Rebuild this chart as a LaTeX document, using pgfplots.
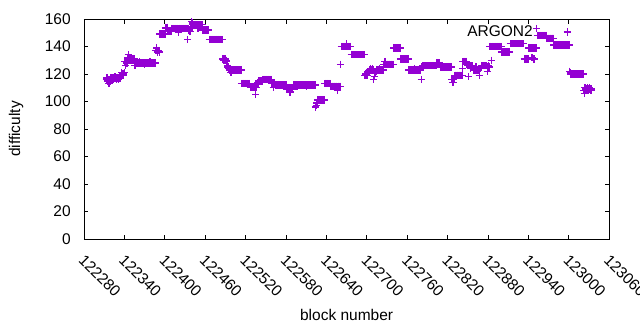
\documentclass[border=0pt]{standalone}
\usepackage{pgfplots}
\pgfplotsset{compat=1.18}
\usepackage{fontspec}
\setmainfont{Liberation Sans}
\definecolor{gpv}{HTML}{9400D3}
\begin{document}
\fontsize{15.5pt}{18pt}\selectfont
\begin{tikzpicture}
\path[use as bounding box] (0,0) rectangle (640pt,330pt);
\begin{axis}[
 at={(84pt,91pt)}, anchor=south west,
 scale only axis, width=525.3pt, height=220pt,
 xmin=122280, xmax=123060, ymin=0, ymax=160,
 xtick={122280,122340,122400,122460,122520,122580,122640,122700,122760,122820,122880,122940,123000,123060},
 xticklabels={122280,122340,122400,122460,122520,122580,122640,122700,122760,122820,122880,122940,123000,123060},
 scaled x ticks=false,
 ytick={0,20,40,60,80,100,120,140,160},
 /pgf/number format/assume math mode=true,
 tick align=inside, tick pos=both, major tick length=4.5pt,
 axis line style={line width=0.9pt},
 every tick/.style={black, line width=0.9pt},
 xticklabel style={rotate=-45, anchor=north west, inner sep=0pt, xshift=11pt, yshift=-9pt},
 yticklabel style={xshift=-8pt},
 xlabel={block number}, ylabel={difficulty},
 xlabel style={at={(axis description cs:0.5,-0.3455)}, anchor=center},
 ylabel style={at={(axis description cs:-0.129,0.5)}, anchor=center},
 legend style={draw=none, fill=none, at={(axis description cs:0.9277,0.941)}, anchor=east, inner sep=0pt, nodes={inner sep=0pt}, /tikz/every odd column/.append style={column sep=31pt}},
 legend plot pos=right, legend cell align=right,
 legend image code/.code={\draw[#1] plot coordinates {(0cm,0cm)};},
]
\addplot[only marks, mark=+, mark size=3.7pt, color=gpv, draw=gpv, line width=1.4pt, mark options={solid, draw=gpv, fill=gpv}] coordinates {
(122313,116)(122314,117)(122315,115)(122316,116)(122317,113)(122318,116)(122319,115)(122320,117)(122321,116)
(122322,117)(122323,116)(122324,117)(122325,117)(122326,118)(122327,117)(122328,116)(122329,117)(122330,117)(122331,116)(122332,117)(122333,118)(122334,117)
(122335,119)(122336,121)(122337,119)(122338,120)(122339,119)(122340,121)
(122341,129)(122342,126)(122343,129)(122344,128)(122345,132)(122346,134)(122347,131)(122348,132)(122349,131)(122350,130)(122351,131)
(122352,131)(122353,130)(122354,131)(122355,130)(122356,126)(122357,129)
(122358,128)(122359,128)(122360,128)(122361,128)(122362,129)(122363,128)(122364,128)(122365,128)(122366,128)(122367,128)(122368,128)(122369,128)(122370,127)(122371,128)(122372,128)(122373,128)(122374,128)(122375,128)(122376,128)(122377,128)(122378,129)(122379,128)(122380,128)(122381,128)(122382,128)(122383,128)(122384,128)(122385,128)(122386,128)
(122387,137)(122388,139)(122389,136)(122390,137)(122391,137)(122392,136)
(122393,149)(122394,149)(122395,149)(122396,149)(122397,149)(122398,149)(122399,149)(122400,149)
(122401,154)(122402,153)(122403,154)(122404,153)
(122405,151)(122406,151)(122407,151)(122408,151)(122409,151)
(122410,153)(122411,153)(122412,153)(122413,153)(122414,153)(122415,153)(122416,153)(122417,153)(122418,153)(122419,153)(122420,150)(122421,153)(122422,153)(122423,153)(122424,153)(122425,153)(122426,153)(122427,153)(122428,153)(122429,153)(122430,153)(122431,153)(122432,153)
(122433,153)(122434,145)(122435,153)(122436,152)(122437,151)(122438,151)(122439,153)(122440,158)(122441,157)
(122442,156)(122443,156)(122444,156)(122445,156)(122446,156)(122447,156)(122448,156)(122449,153)(122450,156)(122451,156)(122452,156)(122453,156)(122454,156)(122455,156)
(122456,152)(122457,152)(122458,152)(122459,152)(122460,152)(122461,152)(122462,152)(122463,152)(122464,152)(122465,152)
(122466,145)(122467,145)(122468,145)(122469,145)(122470,145)(122471,145)(122472,145)(122473,145)(122474,145)(122475,145)(122476,145)(122477,145)(122478,145)(122479,145)(122480,145)(122481,145)(122482,145)(122483,145)(122484,145)(122485,145)
(122486,131)(122487,130)(122488,131)(122489,130)(122490,131)(122491,130)(122492,129)(122493,126)(122494,125)(122495,124)
(122496,123)(122497,123)(122498,121)(122499,123)(122500,123)(122501,123)(122502,123)(122503,123)(122504,123)(122505,123)(122506,123)(122507,123)(122508,123)(122509,123)(122510,123)(122511,123)(122512,123)(122513,123)
(122514,113)(122515,113)(122516,113)(122517,113)(122518,113)(122519,113)(122520,113)(122521,113)(122522,113)(122523,113)(122524,113)(122525,113)(122526,113)
(122527,110)(122528,110)(122529,110)(122530,110)(122531,110)(122532,110)(122533,110)(122534,110)(122535,105)(122536,110)
(122537,113)(122538,114)(122539,113)(122540,115)
(122541,115)(122542,115)(122543,115)(122544,115)(122545,115)
(122546,116)(122547,116)(122548,116)(122549,116)(122550,116)(122551,116)(122552,116)(122553,116)(122554,116)(122555,116)(122556,116)(122557,116)(122558,116)
(122559,113)(122560,113)(122561,110)(122562,113)(122563,113)
(122564,112)(122565,112)(122566,112)(122567,112)(122568,112)(122569,112)(122570,112)(122571,112)(122572,112)(122573,112)(122574,112)(122575,112)(122576,112)(122577,112)(122578,112)(122579,112)(122580,112)
(122581,109)(122582,109)(122583,109)(122584,109)(122585,109)(122586,107)(122587,109)(122588,109)(122589,109)(122590,109)
(122591,112)(122592,112)(122593,112)(122594,112)(122595,112)(122596,111)(122597,112)(122598,112)(122599,112)(122600,112)(122601,112)(122602,112)(122603,112)(122604,112)(122605,112)(122606,112)(122607,112)(122608,112)(122609,112)(122610,111)(122611,112)(122612,112)(122613,112)(122614,112)(122615,112)(122616,112)(122617,112)(122618,112)(122619,112)(122620,112)(122621,112)(122622,112)(122623,112)
(122624,96)(122625,97)(122626,99)
(122627,101)(122628,101)(122629,101)(122630,101)(122631,101)(122632,101)(122633,101)(122634,101)(122635,101)(122636,101)(122637,101)
(122638,113)(122639,113)(122640,113)(122641,113)(122642,113)(122643,113)(122644,113)(122645,113)
(122646,111)(122647,111)(122648,111)(122649,111)(122650,111)(122651,111)(122652,111)(122653,111)(122654,111)(122655,111)(122656,108)(122657,111)(122658,111)(122659,111)(122660,111)
(122661,127)
(122662,140)(122663,140)(122664,140)(122665,140)(122666,140)(122667,140)(122668,140)(122669,140)(122670,142)(122671,140)(122672,140)(122673,140)(122674,140)(122675,140)(122676,140)
(122677,134)(122678,134)(122679,134)(122680,134)(122681,134)(122682,134)(122683,134)(122684,134)(122685,134)(122686,134)(122687,134)(122688,134)(122689,134)(122690,134)(122691,134)(122692,134)(122693,134)(122694,134)(122695,134)(122696,134)
(122697,119)(122698,119)(122699,120)(122700,119)(122701,121)(122702,122)(122703,121)(122704,123)(122705,124)(122706,123)(122707,123)(122708,124)(122709,123)(122710,116)(122711,118)(122712,121)(122713,121)(122714,122)
(122715,123)(122716,123)(122717,123)(122718,123)(122719,124)(122720,123)(122721,123)(122722,123)(122723,123)(122724,123)
(122725,127)(122726,127)(122727,129)(122728,127)(122729,127)(122730,127)(122731,127)(122732,127)(122733,127)(122734,127)(122735,127)(122736,127)(122737,127)(122738,127)(122739,127)
(122740,139)(122741,139)(122742,139)(122743,139)(122744,139)(122745,139)(122746,139)(122747,139)(122748,139)(122749,139)
(122750,131)(122751,131)(122752,131)(122753,131)(122754,131)(122755,131)(122756,131)(122757,131)(122758,131)(122759,131)(122760,131)(122761,131)
(122762,123)(122763,123)(122764,123)(122765,123)(122766,123)(122767,123)(122768,123)(122769,123)(122770,123)(122771,124)(122772,123)(122773,123)(122774,123)(122775,123)(122776,123)(122777,123)(122778,123)(122779,123)(122780,123)
(122781,116)(122782,125)(122783,126)(122784,125)(122785,126)
(122786,126)(122787,126)(122788,126)(122789,126)(122790,126)(122791,126)(122792,126)(122793,126)(122794,126)(122795,126)(122796,126)(122797,126)(122798,126)(122799,126)(122800,126)(122801,126)(122802,126)(122803,126)
(122804,128)(122805,128)(122806,128)(122807,128)(122808,128)
(122809,125)(122810,125)(122811,125)(122812,125)(122813,125)(122814,125)(122815,125)(122816,125)(122817,125)(122818,125)(122819,125)(122820,125)(122821,125)(122822,125)(122823,125)(122824,125)(122825,125)
(122826,116)(122827,116)(122828,114)(122829,116)(122830,117)
(122831,119)(122832,119)(122833,119)(122834,119)(122835,119)(122836,119)(122837,119)(122838,119)(122839,119)(122840,119)(122841,119)
(122842,124)
(122843,129)(122844,129)(122845,129)(122846,129)(122847,129)(122848,129)
(122849,127)(122850,126)(122851,118)
(122852,126)(122853,126)(122854,124)(122855,126)(122856,126)(122857,126)
(122858,123)(122859,123)(122860,123)(122861,123)(122862,125)(122863,123)(122864,123)(122865,123)(122866,123)
(122867,119)(122868,124)(122869,124)
(122870,126)(122871,126)(122872,126)(122873,126)(122874,126)(122875,126)(122876,126)(122877,126)(122878,126)
(122879,122)(122880,125)(122881,126)(122882,125)
(122883,140)(122884,140)(122885,130)(122886,140)(122887,140)(122888,140)(122889,140)(122890,140)(122891,140)(122892,140)(122893,140)(122894,140)(122895,140)(122896,140)(122897,140)(122898,140)(122899,140)
(122900,136)(122901,136)(122902,136)(122903,136)(122904,136)(122905,136)(122906,136)(122907,136)(122908,136)(122909,136)(122910,136)(122911,136)(122912,136)
(122913,142)(122914,142)(122915,142)(122916,142)(122917,142)(122918,142)(122919,142)(122920,142)(122921,142)(122922,142)(122923,142)(122924,142)(122925,142)(122926,142)(122927,142)(122928,142)(122929,142)(122930,142)(122931,142)(122932,142)(122933,142)
(122934,131)(122935,131)(122936,131)(122937,131)(122938,131)(122939,131)(122940,131)
(122941,139)(122942,139)(122943,139)(122944,139)(122945,132)(122946,139)(122947,139)(122948,131)(122949,139)(122950,139)(122951,139)
(122952,153)
(122953,148)(122954,148)(122955,148)(122956,148)(122957,148)(122958,148)(122959,148)(122960,148)(122961,148)(122962,148)(122963,148)(122964,148)(122965,148)(122966,148)
(122967,146)(122968,146)(122969,146)(122970,146)(122971,146)(122972,146)(122973,146)(122974,146)(122975,146)(122976,146)(122977,146)
(122978,141)(122979,141)(122980,141)(122981,141)(122982,141)(122983,141)(122984,141)(122985,141)(122986,141)(122987,141)(122988,141)(122989,141)(122990,141)(122991,141)(122992,141)(122993,141)(122994,141)(122995,141)(122996,141)(122997,141)(122998,141)(122999,141)(123000,141)
(123001,122)(123002,121)
(123003,120)(123004,120)(123005,120)(123006,120)(123007,120)(123008,120)(123009,120)(123010,120)(123011,120)(123012,120)(123013,120)(123014,120)(123015,120)(123016,120)(123017,120)(123018,120)(123019,120)(123020,120)(123021,120)
(123022,108)(123023,106)(123024,110)(123025,109)(123026,108)(123027,109)(123028,110)(123029,108)(123030,109)(123031,110)(123032,109)(123033,108)(123034,109)
};
\addlegendentry{ARGON2}
\end{axis}
\end{tikzpicture}
\end{document}
